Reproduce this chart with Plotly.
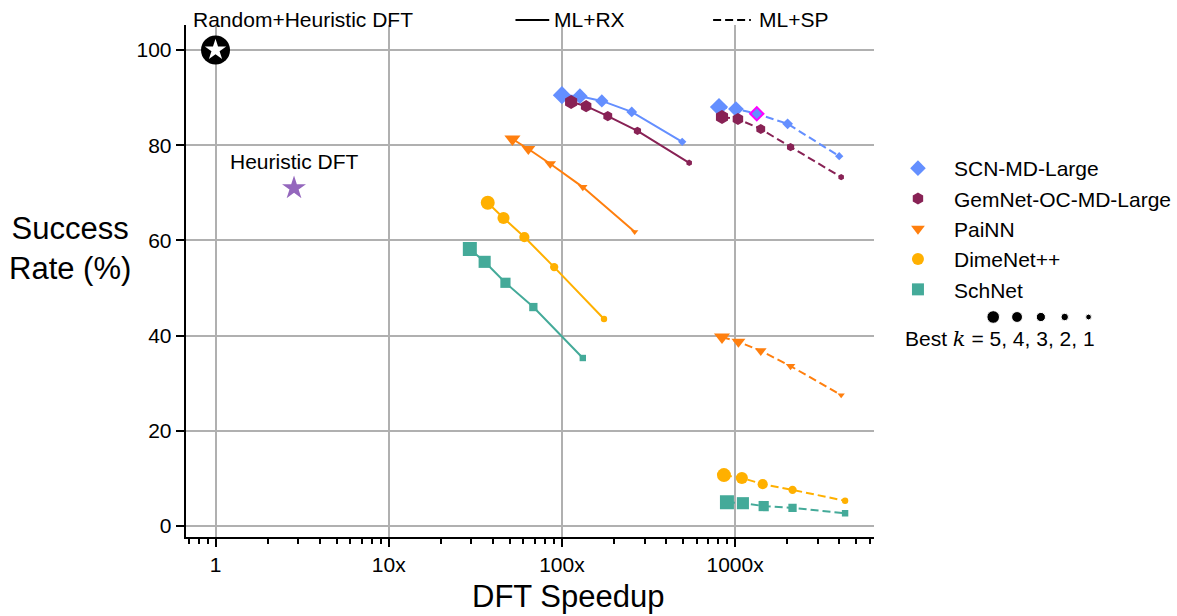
import math
import plotly.graph_objects as go

W, H = 1177, 616

# ---------------- data ----------------
k_values = [5, 4, 3, 2, 1]

models = ["SCN-MD-Large", "GemNet-OC-MD-Large", "PaiNN", "DimeNet++", "SchNet"]

scn_rx_speedup = [100, 127, 170, 253, 495]
scn_rx_success = [90.5, 90.3, 89.3, 87.0, 80.7]
scn_sp_speedup = [807, 1011, 1334, 2009, 3990]
scn_sp_success = [88.0, 87.6, 86.6, 84.5, 77.7]

gem_rx_speedup = [113, 138, 184, 273, 543]
gem_rx_success = [89.1, 88.2, 86.1, 83.0, 76.3]
gem_sp_speedup = [840, 1038, 1406, 2090, 4095]
gem_sp_success = [85.9, 85.5, 83.4, 79.6, 73.3]

painn_rx_speedup = [51.8, 64.0, 85.6, 132, 263]
painn_rx_success = [81.3, 79.2, 76.1, 71.2, 61.8]
painn_sp_speedup = [840, 1045, 1406, 2090, 4095]
painn_sp_success = [39.7, 38.7, 36.8, 33.6, 27.5]

dime_rx_speedup = [37.3, 46.0, 60.7, 90.2, 175]
dime_rx_success = [67.9, 64.7, 60.7, 54.4, 43.5]
dime_sp_speedup = [862, 1094, 1443, 2145, 4315]
dime_sp_success = [10.7, 10.1, 8.8, 7.6, 5.3]

sch_rx_speedup = [29.4, 35.8, 47.2, 68.4, 132]
sch_rx_success = [58.2, 55.5, 51.1, 46.0, 35.3]
sch_sp_speedup = [897, 1109, 1462, 2145, 4315]
sch_sp_success = [5.0, 4.8, 4.2, 3.8, 2.7]

highlight_model = "SCN-MD-Large"
highlight_k = 3

random_heur_speedup = [1]
random_heur_success = [100]
heur_speedup = [2.84]
heur_success = [71.0]

x_tickvals = [1, 10, 100, 1000]
x_ticktext = ["1", "10x", "100x", "1000x"]
y_tickvals = [0, 20, 40, 60, 80, 100]

# ---------------- style ----------------
FONT = "Liberation Sans, Arial, sans-serif"
FS = 21
colors = {
    "SCN-MD-Large": "#648FFF",
    "GemNet-OC-MD-Large": "#882255",
    "PaiNN": "#FF7F0E",
    "DimeNet++": "#FFB000",
    "SchNet": "#44AA99",
}
symbols = {
    "SCN-MD-Large": "diamond",
    "GemNet-OC-MD-Large": "hexagon",
    "PaiNN": "triangle-down",
    "DimeNet++": "circle",
    "SchNet": "square",
}
series = {
    "SCN-MD-Large": (scn_rx_speedup, scn_rx_success, scn_sp_speedup, scn_sp_success),
    "GemNet-OC-MD-Large": (gem_rx_speedup, gem_rx_success, gem_sp_speedup, gem_sp_success),
    "PaiNN": (painn_rx_speedup, painn_rx_success, painn_sp_speedup, painn_sp_success),
    "DimeNet++": (dime_rx_speedup, dime_rx_success, dime_sp_speedup, dime_sp_success),
    "SchNet": (sch_rx_speedup, sch_rx_success, sch_sp_speedup, sch_sp_success),
}


def msize(k):
    return 4.5 + 1.9 * k


def px(x):
    return x / W


def py(y):
    return 1 - y / H


fig = go.Figure()

for m in models:
    rx_x, rx_y, sp_x, sp_y = series[m]
    sizes = [msize(k) for k in k_values]
    fig.add_trace(go.Scatter(
        x=rx_x, y=rx_y, mode="lines+markers", showlegend=False,
        line=dict(color=colors[m], width=2),
        marker=dict(symbol=symbols[m], size=sizes, color=colors[m], opacity=1, line=dict(width=0)),
        hoverinfo="x+y", name=m + " ML+RX"))
    edge_c = ["magenta" if (m == highlight_model and k == highlight_k) else colors[m] for k in k_values]
    edge_w = [2 if (m == highlight_model and k == highlight_k) else 0 for k in k_values]
    fig.add_trace(go.Scatter(
        x=sp_x, y=sp_y, mode="lines+markers", showlegend=False,
        line=dict(color=colors[m], width=2, dash="8px,4px"),
        marker=dict(symbol=symbols[m], size=sizes, color=colors[m], opacity=1,
                    line=dict(color=edge_c, width=edge_w)),
        hoverinfo="x+y", name=m + " ML+SP"))

# legend entries (marker only)
for m in models:
    fig.add_trace(go.Scatter(
        x=[None], y=[None], mode="markers", name=m, showlegend=True,
        marker=dict(symbol=symbols[m], size=14, color=colors[m], opacity=1)))

# baselines
fig.add_trace(go.Scatter(
    x=random_heur_speedup, y=random_heur_success, mode="markers", showlegend=False,
    marker=dict(symbol="circle", size=29, color="black", opacity=1), cliponaxis=False))
fig.add_trace(go.Scatter(
    x=random_heur_speedup, y=random_heur_success, mode="markers", showlegend=False,
    marker=dict(symbol="star", size=16, color="white", opacity=1), cliponaxis=False))
fig.add_trace(go.Scatter(
    x=heur_speedup, y=heur_success, mode="markers", showlegend=False,
    marker=dict(symbol="star", size=18, color="#9467BD", opacity=1)))

# size key (best k) on an auxiliary axis
fig.add_trace(go.Scatter(
    x=list(range(len(k_values))), y=[0] * len(k_values), mode="markers",
    showlegend=False, xaxis="x2", yaxis="y2",
    marker=dict(symbol="circle", size=[msize(k) * 0.9 for k in k_values], color="black", opacity=1)))

fig.update_layout(
    width=W, height=H,
    margin=dict(l=0, r=0, t=0, b=0),
    paper_bgcolor="white", plot_bgcolor="white",
    font=dict(family=FONT, size=FS, color="black"),
    xaxis=dict(
        type="log", domain=[px(187), px(880)], range=[-0.172, 3.802],
        tickmode="array", tickvals=x_tickvals, ticktext=x_ticktext,
        ticks="outside", ticklen=8, tickwidth=2, tickcolor="black",
        showline=True, linecolor="black", linewidth=2,
        showgrid=True, gridcolor="#b0b0b0", gridwidth=1.5, zeroline=False,
        tickfont=dict(size=FS),
        minor=dict(
            tickvals=[d * 10 ** e for e in range(-1, 4) for d in range(2, 10)
                      if 10 ** -0.172 < d * 10 ** e < 10 ** 3.802],
            ticks="outside", ticklen=5, tickwidth=1.5, tickcolor="black", showgrid=False),
        anchor="y",
    ),
    yaxis=dict(
        domain=[py(537), py(25)], range=[-2.3, 105.25],
        tickmode="array", tickvals=y_tickvals,
        ticks="outside", ticklen=8, tickwidth=2, tickcolor="black",
        showline=True, linecolor="black", linewidth=2,
        showgrid=True, gridcolor="#b0b0b0", gridwidth=1.5, zeroline=False,
        tickfont=dict(size=FS),
        anchor="x",
    ),
    xaxis2=dict(domain=[px(988), px(1108)], range=[-0.5, 4.5], visible=False,
                anchor="y2", fixedrange=True),
    yaxis2=dict(domain=[py(330), py(304)], range=[-1, 1], visible=False,
                anchor="x2", fixedrange=True),
    legend=dict(
        x=px(960 - 72), y=py(148), xanchor="left", yanchor="top",
        font=dict(size=FS, family=FONT), bgcolor="rgba(0,0,0,0)",
        itemsizing="constant", tracegroupgap=0, itemwidth=62,
    ),
    showlegend=True,
)

annotations = [
    dict(text="Random+Heuristic DFT", x=px(192), y=py(20), xref="paper", yref="paper",
         xanchor="left", yanchor="middle", showarrow=False, font=dict(size=FS)),
    dict(text="ML+RX", x=px(556), y=py(20), xref="paper", yref="paper",
         xanchor="left", yanchor="middle", showarrow=False, font=dict(size=FS)),
    dict(text="ML+SP", x=px(762), y=py(20), xref="paper", yref="paper",
         xanchor="left", yanchor="middle", showarrow=False, font=dict(size=FS)),
    dict(text="Heuristic DFT", x=math.log10(heur_speedup[0]), y=heur_success[0], xref="x", yref="y",
         yshift=27, xanchor="center", yanchor="middle", showarrow=False,
         font=dict(size=FS)),
    dict(text="Success<br>Rate (%)", x=px(70), y=py(248), xref="paper", yref="paper",
         xanchor="center", yanchor="middle", showarrow=False, font=dict(size=31)),
    dict(text="DFT Speedup", x=px(572), y=py(596), xref="paper", yref="paper",
         xanchor="center", yanchor="middle", showarrow=False, font=dict(size=31)),
    dict(text="Best <span style=\"font-family:DejaVu Serif\"><i>k</i></span> = 5, 4, 3, 2, 1",
         x=px(1007), y=py(339), xref="paper", yref="paper",
         xanchor="center", yanchor="middle", showarrow=False, font=dict(size=FS)),
]
fig.update_layout(annotations=annotations)

fig.add_shape(type="line", xref="paper", yref="paper", x0=px(519), x1=px(553),
              y0=py(20), y1=py(20), line=dict(color="black", width=2))
fig.add_shape(type="line", xref="paper", yref="paper", x0=px(718), x1=px(756),
              y0=py(20), y1=py(20), line=dict(color="black", width=2, dash="8px,4px"))

fig.write_html("out.html", config={"displayModeBar": False},
               post_script="document.body.style.margin='0px';")
